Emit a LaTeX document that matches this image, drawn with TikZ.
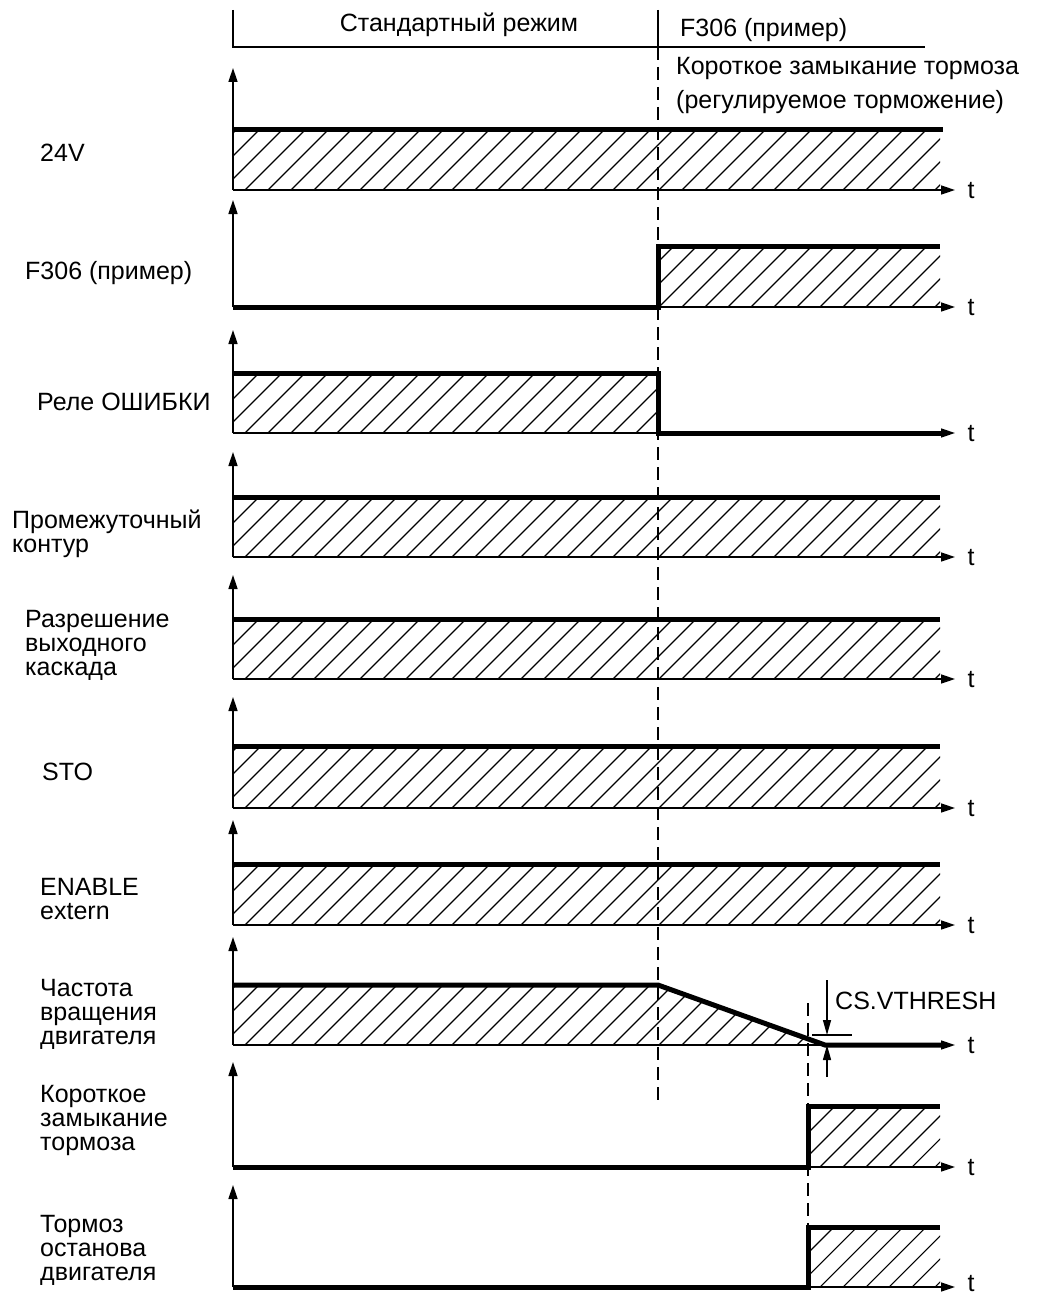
\documentclass[tikz,border=0pt]{standalone}
\usepackage{fontspec}
\setmainfont{Liberation Sans}
\usepackage{tikz}
\usetikzlibrary{arrows.meta}
\usetikzlibrary{positioning}

\tikzset{
  axis/.style={line width=1.6pt, -{Triangle[length=14pt,width=9pt]}},
  sig/.style={line width=5pt},
  hatchline/.style={line width=1.1pt},
  cut/.style={line width=1.5pt, dash pattern=on 13pt off 7pt},
  lbl/.style={anchor=west, align=left, inner sep=0pt, font=\fontsize{25}{24}\selectfont},
  tlbl/.style={inner sep=0pt, font=\fontsize{25}{24}\selectfont},
}

\newcommand{\hatcharea}[2]{%
  \begin{scope}
    \clip #1;
    \foreach \k in {-4,...,31}
      \draw[hatchline] ({245+23*\k},#2) -- ++(80,-80);
  \end{scope}}

\begin{document}
\begin{tikzpicture}[x=1pt, y=-1pt]
  \useasboundingbox (0,0) rectangle (1039,1295);

  \hatcharea{(233,130) rectangle (940,190)}{190}
  \hatcharea{(658,246) rectangle (940,307)}{307}
  \hatcharea{(233,373) rectangle (658,433)}{433}
  \hatcharea{(233,497) rectangle (940,557)}{557}
  \hatcharea{(233,619) rectangle (940,679)}{679}
  \hatcharea{(233,746) rectangle (940,808)}{808}
  \hatcharea{(233,864) rectangle (940,925)}{925}
  \hatcharea{(233,985) -- (658,985) -- (825,1045) -- (233,1045) -- cycle}{1045}
  \hatcharea{(808,1106) rectangle (940,1167)}{1167}
  \hatcharea{(808,1227) rectangle (940,1287)}{1287}

  \foreach \top/\base/\ty [count=\i] in {68/190/191, 200/307/308, 330/433/434,
      452/557/558, 575/679/680, 697/808/809, 820/925/926, 937/1045/1046,
      1062/1167/1168, 1185/1287/1283} {
    \draw[axis] (233,\base) -- (233,\top);
    \draw[axis] (233,\base) -- (955,\base);
    \node[tlbl] (t\i) at (971,\ty) {t};
  }

  \draw[line width=1.5pt] (233,10) -- (233,47) -- (925,47);
  \draw[line width=1.5pt] (658,10) -- (658,47);
  \draw[cut] (658,47) -- (658,1105);
  \draw[cut] (808,1003) -- (808,1225);

  \draw[sig] (233,130) -- (943,130);
  \draw[sig] (233,307) -- (658,307) -- (658,246) -- (940,246);
  \draw[sig] (233,373) -- (658,373) -- (658,433) -- (945,433);
  \draw[sig] (233,497) -- (940,497);
  \draw[sig] (233,619) -- (940,619);
  \draw[sig] (233,746) -- (940,746);
  \draw[sig] (233,864) -- (940,864);
  \draw[sig] (233,985) -- (658,985) -- (825,1045) -- (945,1045);
  \draw[sig] (233,1167) -- (808,1167) -- (808,1106) -- (940,1106);
  \draw[sig] (233,1287) -- (808,1287) -- (808,1227) -- (940,1227);

  \draw[line width=1.4pt] (812,1035) -- (852,1035);
  \draw[line width=1.4pt, -{Triangle[length=15pt,width=8pt]}] (827,980) -- (827,1035);
  \draw[line width=1.4pt, -{Triangle[length=15pt,width=8pt]}] (827,1077) -- (827,1045);
  \node[lbl] (vthresh) at (835,1001) {CS.VTHRESH};

  \node[tlbl] (normal) at (459,25) {Стандартный режим};
  \node[lbl] (fault) at (680,30) {F306 (пример)};
  \node[lbl] (brakeshort) at (676,68) {Короткое замыкание тормоза};
  \node[lbl] (braking) at (676,102) {(регулируемое торможение)};

  \node[lbl] (l24v) at (40,153) {24V};
  \node[lbl] (lfault) at (25,273) {F306 (пример)};
  \node[lbl] (lrelay) at (37,402) {Реле ОШИБКИ};
  \node[lbl] (ldclink) at (12,534) {Промежуточный\\контур};
  \node[lbl] (lstage) at (25,645) {Разрешение\\выходного\\каскада};
  \node[lbl] (lsto) at (42,772) {STO};
  \node[lbl] (lenable) at (40,899) {ENABLE\\extern};
  \node[lbl] (lspeed) at (40,1014) {Частота\\вращения\\двигателя};
  \node[lbl] (lshort) at (40,1120) {Короткое\\замыкание\\тормоза};
  \node[lbl] (lbrake) at (40,1250) {Тормоз\\останова\\двигателя};
\end{tikzpicture}
\end{document}
